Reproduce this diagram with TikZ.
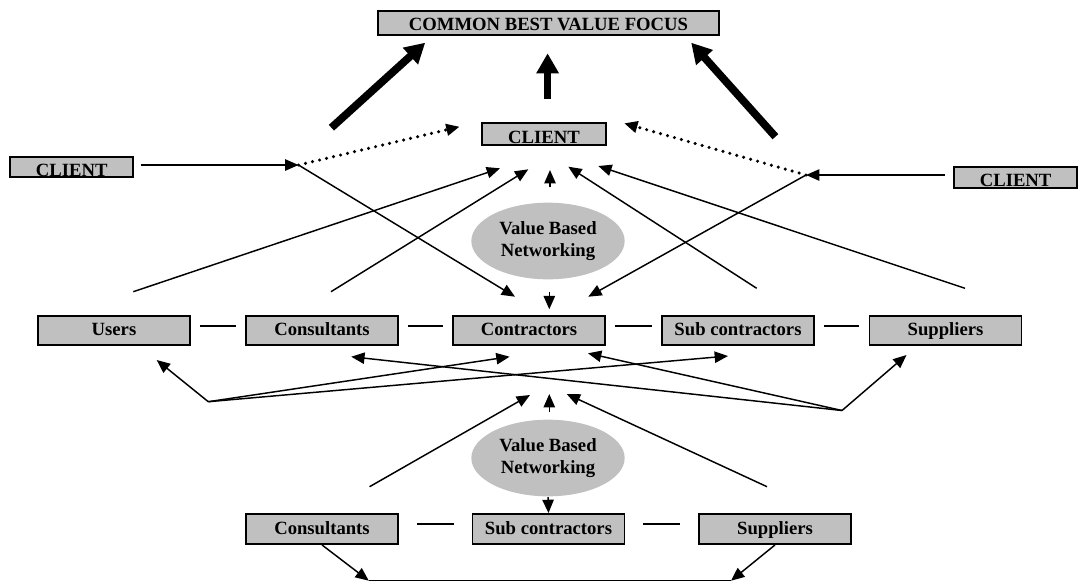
\documentclass[tikz,border=0pt]{standalone}
\usepackage{fontspec}
\setmainfont{Liberation Serif}
\usetikzlibrary{arrows.meta,shapes.geometric}
\definecolor{boxgray}{HTML}{C0C0C0}
\tikzset{
	box/.style={draw, line width=1.4pt, fill=boxgray, inner sep=0pt, minimum width=114pt, minimum height=21.75pt, text height=8pt, text depth=0pt, font=\fontsize{14}{16.5}\selectfont\bfseries},
	tight/.style={box, minimum width=92.25pt, minimum height=15.4pt, text height=14pt},
	net/.style={ellipse, fill=boxgray, inner sep=0pt, minimum width=115pt, minimum height=57.5pt, align=center, font=\fontsize{14}{16.5}\selectfont\bfseries},
	link/.style={line width=1.6pt, shorten >=#1, shorten <=#1},
	link/.default=7pt,
	bold/.style={line width=5.8pt, -{Triangle[length=15pt,width=16pt]}},
	dots/.style={line width=2.6pt, line cap=round, dash pattern=on 0pt off 5.4pt, -{Triangle[length=10pt,width=8.5pt]}}
}
\begin{document}
\begin{tikzpicture}[x=0.75pt, y=-0.75pt, line width=1.1pt, >={Triangle[length=10pt,width=8.5pt]}]
	\useasboundingbox (0,0) rectangle (1078,587);
	\node[box, minimum width=255.75pt, minimum height=18pt, text height=12pt] (focus) at (548.5,22.7) {COMMON BEST VALUE FOCUS};
	\node[tight, minimum width=93pt, minimum height=16.5pt] (client) at (544,134) {CLIENT};
	\node[tight] (clientl) at (71.7,167) {CLIENT};
	\node[tight] (clientr) at (1015.6,177.6) {CLIENT};
	\node[net] (net1) at (548,241) {Value Based\\Networking};
	\node[box] (users) at (114,330.5) {Users};
	\node[box] (consult) at (322,330.5) {Consultants};
	\node[box] (contr) at (529,330.5) {Contractors};
	\node[box] (subc) at (738,330.5) {Sub contractors};
	\node[box] (suppl) at (945.5,330.5) {Suppliers};
	\node[net] (net2) at (548,458) {Value Based\\Networking};
	\node[box, minimum height=22.5pt] (bcons) at (322,529) {Consultants};
	\node[box, minimum height=22.5pt] (bsubc) at (548.5,529) {Sub contractors};
	\node[box, minimum height=22.5pt] (bsuppl) at (775,529) {Suppliers};

	\coordinate (fl0) at (331.4,127.7); \coordinate (fl1) at (425.2,42.7);
	\coordinate (fm0) at (547.6,99); \coordinate (fm1) at (547.6,53.3);
	\coordinate (fr0) at (775.4,136.7); \coordinate (fr1) at (691.2,42.7);
	\coordinate (cl) at (298.5,165); \coordinate (cr) at (806,175);
	\coordinate (dl) at (459.6,126.7); \coordinate (dr) at (624.2,123.3);
	\coordinate (kl) at (515,296.7); \coordinate (kr) at (588.3,296.7);
	\coordinate (u0) at (133.3,291.7); \coordinate (u1) at (500,168.3);
	\coordinate (c0) at (331,291.7); \coordinate (c1) at (528.3,169.3);
	\coordinate (n0) at (550,187.3); \coordinate (n1) at (550,170);
	\coordinate (s0) at (756.7,288.3); \coordinate (s1) at (568.3,166.7);
	\coordinate (p0) at (965,288.3); \coordinate (p1) at (598.3,166);
	\coordinate (m0) at (549.3,291.7); \coordinate (m1) at (549.3,309.3);
	\coordinate (jl) at (208.3,401.7); \coordinate (jr) at (842,410.5);
	\coordinate (ju) at (156.7,360); \coordinate (jk) at (509.6,356.7); \coordinate (js) at (728,356);
	\coordinate (rp) at (906.5,355); \coordinate (rk) at (588,353.3); \coordinate (rc) at (351.2,356.7);
	\coordinate (bl0) at (369.6,486.7); \coordinate (bl1) at (530,395);
	\coordinate (bm0) at (549.3,411.7); \coordinate (bm1) at (549.3,394);
	\coordinate (br0) at (767,486.7); \coordinate (br1) at (566.7,394);
	\coordinate (bl) at (368.8,580.7); \coordinate (br) at (731,580.7);

	\draw[bold] (fl0) -- (fl1);
	\draw[bold] (fm0) -- (fm1);
	\draw[bold] (fr0) -- (fr1);
	\draw[dots] (cl) -- (dl);
	\draw[dots] (cr) -- (dr);
	\draw[->, shorten <=5pt] (clientl.east |- cl) -- (cl);
	\draw[->, shorten <=6pt] (clientr.west |- cr) -- (cr);
	\draw[->] (cl) -- (kl);
	\draw[->] (cr) -- (kr);
	\foreach \a/\b in {u0/u1, c0/c1, n0/n1, s0/s1, p0/p1, m0/m1}
		\draw[->] (\a) -- (\b);
	\foreach \b in {ju, jk, js}
		\draw[->] (jl) -- (\b);
	\foreach \b in {rp, rk, rc}
		\draw[->] (jr) -- (\b);
	\foreach \a/\b in {bl0/bl1, bm0/bm1, br0/br1}
		\draw[->] (\a) -- (\b);
	\draw[->] (net2.south) -- (bsubc.north);
	\draw[->] (bcons.south) -- (bl);
	\draw[->] (bsuppl.south) -- (br);
	\draw (bl) -- (br);

	\foreach \a/\b in {users/consult, consult/contr, contr/subc, subc/suppl}
		\draw[link] ([yshift=3.6pt]\a.east) -- ([yshift=3.6pt]\b.west);
	\foreach \a/\b in {bcons/bsubc, bsubc/bsuppl}
		\draw[link=13.5pt] ([yshift=3.5pt]\a.east) -- ([yshift=3.5pt]\b.west);
\end{tikzpicture}
\end{document}
